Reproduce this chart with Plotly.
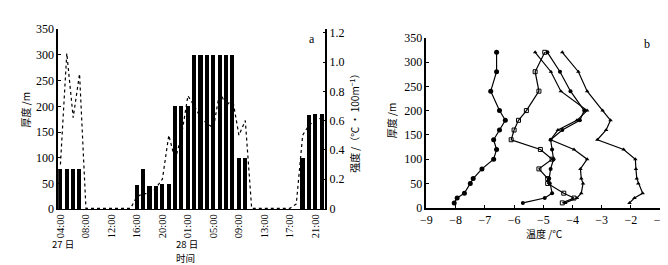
import plotly.graph_objects as go

# ---------- panel a ----------
hour_idx = list(range(42))
tick_idx = [0, 4, 8, 12, 16, 20, 24, 28, 32, 36, 40]
tick_labels = ["04:00", "08:00", "12:00", "16:00", "20:00", "01:00", "05:00", "09:00", "13:00", "17:00", "21:00"]

thickness = [78, 78, 78, 78, 0, 0, 0, 0, 0, 0, 0, 0,
             47, 78, 45, 45, 48, 48, 200, 200, 200,
             300, 300, 300, 300, 300, 300, 300, 100, 100,
             0, 0, 0, 0, 0, 0, 0, 0, 100, 182, 185, 185]
intensity = [0.30, 1.06, 0.62, 0.92, 0.0, 0, 0, 0, 0, 0, 0, 0.0,
             0.08, 0.10, 0.10, 0.14, 0.20, 0.50, 0.33, 0.50, 0.77,
             0.70, 0.62, 0.58, 0.55, 0.80, 0.70, 0.75, 0.50, 0.60,
             0.0, 0, 0, 0, 0, 0, 0, 0.03, 0.50, 0.57, 0.60, 0.62]

# ---------- panel b ----------
heights = [10, 20, 30, 50, 60, 80, 100, 120, 140, 160, 180, 200, 240, 280, 320]
temp_a = [-8.05, -7.95, -7.70, -7.50, -7.40, -7.10, -6.70, -6.60, -6.70, -6.50, -6.30, -6.50, -6.80, -6.60, -6.60]
temp_b = [-4.35, -3.95, -4.30, -4.85, -4.85, -5.15, -4.70, -5.10, -6.10, -6.00, -5.85, -5.58, -5.15, -5.28, -4.95]
temp_c = [-5.70, -4.95, -4.70, -4.78, -4.80, -4.75, -4.65, -4.70, -4.75, -4.35, -3.75, -3.60, -4.07, -4.43, -4.86]
temp_d = [-4.25, -3.85, -3.70, -3.64, -3.70, -3.73, -3.50, -3.95, -4.75, -4.50, -3.85, -3.50, -4.40, -4.74, -5.28]
temp_e = [-2.05, -1.88, -1.60, -1.75, -1.80, -1.83, -1.85, -2.25, -3.15, -2.85, -2.70, -2.97, -3.50, -3.80, -4.35]

SERIF = "'Liberation Serif', 'Times New Roman', serif"
CJK = "'Noto Sans CJK SC', sans-serif"
W, H = 668, 265

def fx(px):
    return px / W

def fy(py):
    return 1 - py / H

fig = go.Figure()

fig.add_trace(go.Bar(x=hour_idx, y=thickness, marker=dict(color="black", line=dict(width=0)),
                     width=0.64, xaxis="x", yaxis="y", showlegend=False))
fig.add_trace(go.Scatter(x=hour_idx, y=intensity, mode="lines",
                         line=dict(color="black", width=1.2, dash="dot"),
                         xaxis="x", yaxis="y2", showlegend=False))

series = [
    (temp_a, dict(symbol="circle", size=5, color="black")),
    (temp_b, dict(symbol="square-open", size=4, color="black", line=dict(width=1, color="black"))),
    (temp_c, dict(symbol="circle", size=4, color="black")),
    (temp_d, dict(symbol="triangle-up", size=4, color="black")),
    (temp_e, dict(symbol="triangle-up", size=4, color="black")),
]
for t, mk in series:
    fig.add_trace(go.Scatter(x=t, y=heights, mode="lines+markers",
                             line=dict(color="black", width=1.2), marker=mk,
                             xaxis="x3", yaxis="y3", showlegend=False))

tickfont = dict(family=SERIF, size=12, color="black")

fig.update_layout(
    width=W, height=H,
    margin=dict(l=0, r=0, t=0, b=0),
    paper_bgcolor="white", plot_bgcolor="white",
    bargap=0,
    xaxis=dict(domain=[fx(45), fx(317)], range=[-0.35, 41.55], tickvals=tick_idx, ticktext=tick_labels,
               tickangle=-90, tickfont=dict(family=SERIF, size=10.5, color="black"),
               showline=True, linecolor="black", linewidth=1, showgrid=False, zeroline=False,
               ticks="", anchor="y"),
    yaxis=dict(domain=[fy(205), fy(15)], range=[0, 350], tickvals=[0, 50, 100, 150, 200, 250, 300, 350],
               tickfont=tickfont, showline=True, linecolor="black", linewidth=1.5, showgrid=False,
               zeroline=False, ticks="inside", ticklen=3, tickcolor="black", anchor="x"),
    yaxis2=dict(domain=[fy(205), fy(15)], range=[-0.006, 1.225], overlaying="y", side="right", anchor="x",
                tickvals=[0, 0.2, 0.4, 0.6, 0.8, 1.0, 1.2], ticktext=["0", "0.2", "0.4", "0.6", "0.8", "1.0", "1.2"],
                tickfont=tickfont, showline=True, linecolor="black", linewidth=1.5, showgrid=False,
                zeroline=False, ticks="inside", ticklen=3, tickcolor="black"),
    xaxis3=dict(domain=[fx(420), fx(658)], range=[-9, -1], tickvals=list(range(-9, 0)),
                ticktext=["\u2212" + str(abs(v)) for v in range(-9, 0)],
                tickfont=tickfont, showline=True, linecolor="black", linewidth=1.5, showgrid=False,
                zeroline=False, ticks="inside", ticklen=3, tickcolor="black", anchor="y3"),
    yaxis3=dict(domain=[fy(203.5), fy(24)], range=[0, 350], tickvals=[0, 50, 100, 150, 200, 250, 300, 350],
                tickfont=tickfont, showline=True, linecolor="black", linewidth=1.5, showgrid=False,
                zeroline=False, ticks="inside", ticklen=3, tickcolor="black", anchor="x3"),
)

ann = [
    dict(text="厚度 /m", x=fx(12), y=fy(100), textangle=-90, font=dict(family=CJK, size=10)),
    dict(text="强度 /（℃ · 100m<sup>−1</sup>）", x=fx(346), y=fy(112), textangle=-90, font=dict(family=CJK, size=10)),
    dict(text="a", x=fx(303), y=fy(25), font=dict(family=SERIF, size=12)),
    dict(text="27 日", x=fx(50), y=fy(242), font=dict(family=CJK, size=9.5)),
    dict(text="28 日", x=fx(176), y=fy(241.5), font=dict(family=CJK, size=9.5)),
    dict(text="时间", x=fx(175), y=fy(256.5), font=dict(family=CJK, size=9.5)),
    dict(text="厚度 /m", x=fx(384), y=fy(112), textangle=-90, font=dict(family=CJK, size=10)),
    dict(text="温度 /℃", x=fx(540), y=fy(231), font=dict(family=CJK, size=10)),
    dict(text="b", x=fx(645), y=fy(31), font=dict(family=SERIF, size=12)),
]
for a in ann:
    a.update(xref="paper", yref="paper", showarrow=False, xanchor="center", yanchor="middle")
    a["font"]["color"] = "black"
fig.update_layout(annotations=ann)

fig.write_html("out.html")
